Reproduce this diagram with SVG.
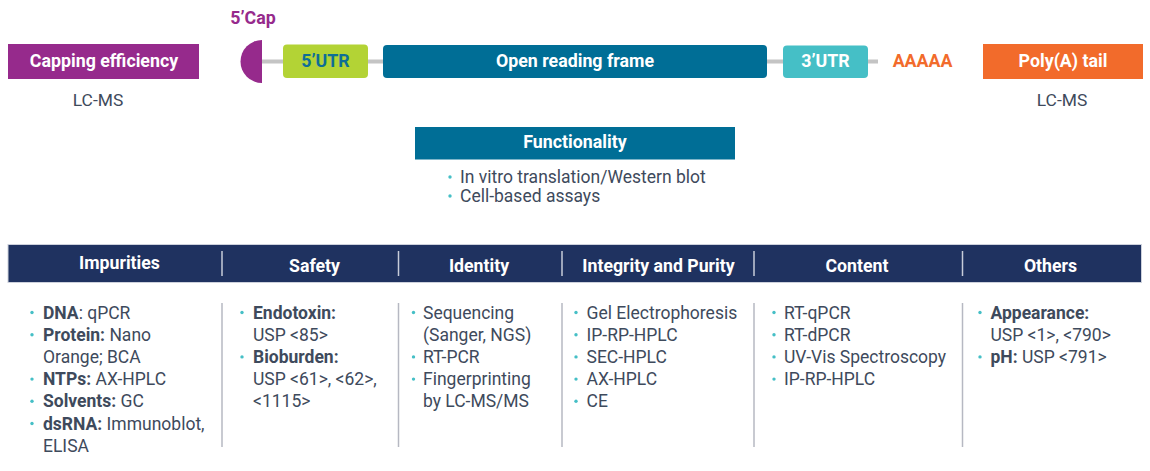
<svg xmlns="http://www.w3.org/2000/svg" width="1150" height="471" viewBox="0 0 1150 471">
<style>
text{font-family:Roboto,"Liberation Sans",sans-serif}
.wb{fill:#fff;font-weight:700;font-size:17.8px;text-anchor:middle}
.hd{fill:#fff;font-weight:700;font-size:17.7px;text-anchor:middle}
.bd{fill:#3e4a5c;font-size:17.5px}
.bd tspan.b{font-weight:700}
.lc{fill:#3e4a5c;font-size:17.4px;text-anchor:middle}
.dot{fill:#45bfc6}
.div{stroke:#b6b8c2;stroke-width:1.5}
.hdiv{stroke:#c7ccd9;stroke-width:1.5}
</style>
<rect width="1150" height="471" fill="#fff"/>
<g id="connectors">
<line x1="262" y1="61.5" x2="878" y2="61.5" stroke="#c4c4c4" stroke-width="4"/>
</g>
<g id="capping">
<rect x="8" y="44" width="191" height="35" fill="#962a8c"/>
<text class="wb" x="104" y="67">Capping efficiency</text>
<text class="lc" x="98" y="106">LC-MS</text>
</g>
<g id="cap">
<text x="253" y="24" fill="#962a8c" font-weight="700" font-size="17.8" text-anchor="middle">5’Cap</text>
<path d="M262,40 A21.5,21.5 0 0 0 262,83 Z" fill="#962a8c"/>
</g>
<g id="utr5">
<rect x="283" y="44.5" width="85" height="33.5" rx="4" fill="#b3d335"/>
<text x="325.5" y="67" fill="#0e6e96" font-weight="700" font-size="17.8" text-anchor="middle">5’UTR</text>
</g>
<g id="orf">
<rect x="383" y="45" width="384" height="33" rx="4" fill="#006e96"/>
<text class="wb" x="575" y="67">Open reading frame</text>
</g>
<g id="utr3">
<rect x="783" y="45.5" width="85" height="32.5" rx="4" fill="#45bfc6"/>
<text class="wb" x="825.5" y="67">3’UTR</text>
</g>
<g id="polya-seq">
<text x="922.5" y="67" fill="#f26b2b" font-weight="700" font-size="17.8" text-anchor="middle">AAAAA</text>
</g>
<g id="polya">
<rect x="983" y="44" width="160" height="35" fill="#f26b2b"/>
<text class="wb" x="1063" y="67">Poly(A) tail</text>
<text class="lc" x="1062" y="106">LC-MS</text>
</g>
<g id="functionality">
<rect x="415" y="127" width="320" height="32.5" fill="#006e96"/>
<text class="wb" x="575" y="148">Functionality</text>
<circle class="dot" cx="450" cy="177" r="1.7"/>
<text class="bd" x="460" y="183">In vitro translation/Western blot</text>
<circle class="dot" cx="450" cy="196" r="1.7"/>
<text class="bd" x="460" y="202">Cell-based assays</text>
</g>
<g id="table-header">
<rect x="8" y="244.5" width="1133.5" height="38" fill="#1f3260" stroke="#cdd1dc" stroke-width="1"/>
<line class="hdiv" x1="222" y1="251" x2="222" y2="276"/>
<line class="hdiv" x1="398.5" y1="251" x2="398.5" y2="276"/>
<line class="hdiv" x1="562" y1="251" x2="562" y2="276"/>
<line class="hdiv" x1="754" y1="251" x2="754" y2="276"/>
<line class="hdiv" x1="962.5" y1="251" x2="962.5" y2="276"/>
</g>
<g id="dividers">
<line class="div" x1="222" y1="303" x2="222" y2="447"/>
<line class="div" x1="398.5" y1="303" x2="398.5" y2="447"/>
<line class="div" x1="562" y1="303" x2="562" y2="447"/>
<line class="div" x1="754" y1="303" x2="754" y2="447"/>
<line class="div" x1="962.5" y1="303" x2="962.5" y2="447"/>
</g>
<g id="impurities">
<text class="hd" x="119.5" y="268.5">Impurities</text>
<circle class="dot" cx="32" cy="312.5" r="1.7"/>
<text class="bd" x="43" y="318.5"><tspan class="b">DNA</tspan>: qPCR</text>
<circle class="dot" cx="32" cy="334.7" r="1.7"/>
<text class="bd" x="43" y="340.7"><tspan class="b">Protein:</tspan> Nano</text>
<text class="bd" x="43" y="362.9">Orange; BCA</text>
<circle class="dot" cx="32" cy="379.1" r="1.7"/>
<text class="bd" x="43" y="385.1"><tspan class="b">NTPs:</tspan> AX-HPLC</text>
<circle class="dot" cx="32" cy="401.3" r="1.7"/>
<text class="bd" x="43" y="407.3"><tspan class="b">Solvents:</tspan> GC</text>
<circle class="dot" cx="32" cy="423.5" r="1.7"/>
<text class="bd" x="43" y="429.5"><tspan class="b">dsRNA:</tspan> Immunoblot,</text>
<text class="bd" x="43" y="451.7">ELISA</text>
</g>
<g id="safety">
<text class="hd" x="314.5" y="272">Safety</text>
<circle class="dot" cx="242" cy="312.5" r="1.7"/>
<text class="bd" x="253" y="318.5"><tspan class="b">Endotoxin:</tspan></text>
<text class="bd" x="253" y="340.7">USP &lt;85&gt;</text>
<circle class="dot" cx="242" cy="356.9" r="1.7"/>
<text class="bd" x="253" y="362.9"><tspan class="b">Bioburden:</tspan></text>
<text class="bd" x="253" y="385.1">USP &lt;61&gt;, &lt;62&gt;,</text>
<text class="bd" x="253" y="407.3">&lt;1115&gt;</text>
</g>
<g id="identity">
<text class="hd" x="479" y="272">Identity</text>
<circle class="dot" cx="413.5" cy="312.5" r="1.7"/>
<text class="bd" x="423" y="318.5">Sequencing</text>
<text class="bd" x="423" y="340.7">(Sanger, NGS)</text>
<circle class="dot" cx="413.5" cy="356.9" r="1.7"/>
<text class="bd" x="423" y="362.9">RT-PCR</text>
<circle class="dot" cx="413.5" cy="379.1" r="1.7"/>
<text class="bd" x="423" y="385.1">Fingerprinting</text>
<text class="bd" x="423" y="407.3">by LC-MS/MS</text>
</g>
<g id="integrity">
<text class="hd" x="658.5" y="272">Integrity and Purity</text>
<circle class="dot" cx="576" cy="312.5" r="1.7"/>
<text class="bd" x="586.5" y="318.5">Gel Electrophoresis</text>
<circle class="dot" cx="576" cy="334.7" r="1.7"/>
<text class="bd" x="586.5" y="340.7">IP-RP-HPLC</text>
<circle class="dot" cx="576" cy="356.9" r="1.7"/>
<text class="bd" x="586.5" y="362.9">SEC-HPLC</text>
<circle class="dot" cx="576" cy="379.1" r="1.7"/>
<text class="bd" x="586.5" y="385.1">AX-HPLC</text>
<circle class="dot" cx="576" cy="401.3" r="1.7"/>
<text class="bd" x="586.5" y="407.3">CE</text>
</g>
<g id="content">
<text class="hd" x="857" y="272">Content</text>
<circle class="dot" cx="774" cy="312.5" r="1.7"/>
<text class="bd" x="784" y="318.5">RT-qPCR</text>
<circle class="dot" cx="774" cy="334.7" r="1.7"/>
<text class="bd" x="784" y="340.7">RT-dPCR</text>
<circle class="dot" cx="774" cy="356.9" r="1.7"/>
<text class="bd" x="784" y="362.9">UV-Vis Spectroscopy</text>
<circle class="dot" cx="774" cy="379.1" r="1.7"/>
<text class="bd" x="784" y="385.1">IP-RP-HPLC</text>
</g>
<g id="others">
<text class="hd" x="1050.5" y="272">Others</text>
<circle class="dot" cx="980" cy="312.5" r="1.7"/>
<text class="bd" x="990.5" y="318.5"><tspan class="b">Appearance:</tspan></text>
<text class="bd" x="990.5" y="340.7">USP &lt;1&gt;, &lt;790&gt;</text>
<circle class="dot" cx="980" cy="356.9" r="1.7"/>
<text class="bd" x="990.5" y="362.9"><tspan class="b">pH:</tspan> USP &lt;791&gt;</text>
</g>
</svg>
